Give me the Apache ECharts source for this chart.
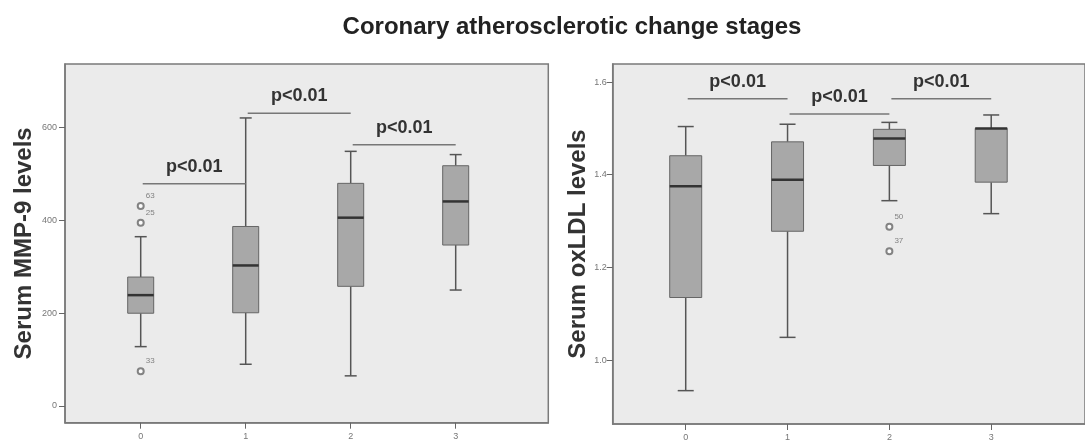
<!DOCTYPE html>
<html>
<head>
<meta charset="utf-8">
<script src="https://cdn.jsdelivr.net/npm/echarts@6/dist/echarts.min.js"></script>
<style>
html,body{margin:0;padding:0;background:#fff;}
#chart{width:1085px;height:442px;}
</style>
</head>
<body>
<div id="chart"></div>
<script>
// ---- data ----
const titleText = 'Coronary atherosclerotic change stages';
const categories = ['0', '1', '2', '3'];
const mmpName = 'Serum MMP-9 levels';
const oxName = 'Serum oxLDL levels';
// [min, Q1, median, Q3, max]
const mmpBoxes = [
  [128, 200, 239, 278, 365],
  [90, 201, 303, 387, 621],
  [65, 258, 406, 480, 549],
  [250, 347, 441, 518, 542]
];
const mmpOutliers = [[0, 431, '63'], [0, 395, '25'], [0, 75, '33']];
const oxBoxes = [
  [0.934, 1.135, 1.375, 1.441, 1.504],
  [1.049, 1.278, 1.389, 1.471, 1.509],
  [1.344, 1.420, 1.478, 1.498, 1.513],
  [1.316, 1.384, 1.500, 1.500, 1.529]
];
const oxOutliers = [[2, 1.288, '50'], [2, 1.235, '37']];
// [fromCategory, toCategory, height, label]
const mmpSig = [[0, 1, 479, 'p<0.01'], [1, 2, 631, 'p<0.01'], [2, 3, 563, 'p<0.01']];
const oxSig = [[0, 1, 1.564, 'p<0.01'], [1, 2, 1.531, 'p<0.01'], [2, 3, 1.564, 'p<0.01']];
const mmpTicks = [0, 200, 400, 600];
const oxTicks = [1.0, 1.2, 1.4, 1.6];
const xTicks = [0, 1, 2, 3];

// ---- styles ----
const FONT = '"Liberation Sans", Arial, sans-serif';
const frameColor = '#7a7a7a';
const plotBg = '#ebebeb';
const boxFill = '#a8a8a8';
const lineColor = '#555';

function boxRenderer(boxW, capW) {
  return function (params, api) {
    const x = api.value(0);
    const lo = api.coord([x, api.value(1)]);
    const q1 = api.coord([x, api.value(2)]);
    const md = api.coord([x, api.value(3)]);
    const q3 = api.coord([x, api.value(4)]);
    const hi = api.coord([x, api.value(5)]);
    const cx = lo[0];
    const ws = {stroke: lineColor, lineWidth: 1.5};
    return {
      type: 'group',
      children: [
        {type: 'line', shape: {x1: cx, y1: hi[1], x2: cx, y2: q3[1]}, style: ws},
        {type: 'line', shape: {x1: cx, y1: q1[1], x2: cx, y2: lo[1]}, style: ws},
        {type: 'line', shape: {x1: cx - capW / 2, y1: hi[1], x2: cx + capW / 2, y2: hi[1]}, style: ws},
        {type: 'line', shape: {x1: cx - capW / 2, y1: lo[1], x2: cx + capW / 2, y2: lo[1]}, style: ws},
        {type: 'rect', shape: {x: cx - boxW / 2, y: q3[1], width: boxW, height: q1[1] - q3[1]},
          style: {fill: boxFill, stroke: '#666', lineWidth: 1}},
        {type: 'line', shape: {x1: cx - boxW / 2, y1: md[1], x2: cx + boxW / 2, y2: md[1]},
          style: {stroke: '#333', lineWidth: 2.5}}
      ]
    };
  };
}

function sigRenderer(params, api) {
  const a = api.coord([api.value(0), api.value(2)]);
  const b = api.coord([api.value(1), api.value(2)]);
  const label = api.value(3);
  return {
    type: 'group',
    children: [
      {type: 'line', shape: {x1: a[0] + 2, y1: a[1], x2: b[0], y2: b[1]},
        style: {stroke: '#777', lineWidth: 1.5}},
      {type: 'text', x: (a[0] + b[0]) / 2 + 1, y: a[1] - 17,
        style: {text: String(label), fill: '#333', font: 'bold 18px ' + FONT,
          align: 'center', verticalAlign: 'middle'}}
    ]
  };
}

function xAxisCfg(gridIndex, min, max) {
  return {
    type: 'value', gridIndex, min, max,
    splitLine: {show: false},
    axisLine: {show: true, onZero: false, lineStyle: {color: frameColor, width: 1.5}},
    axisTick: {show: true, customValues: xTicks, length: 6, lineStyle: {color: '#666', width: 1}},
    axisLabel: {customValues: xTicks, margin: 9, fontSize: 9, color: '#777', fontFamily: FONT,
      formatter: v => categories[Math.round(v)]}
  };
}
function yAxisCfg(gridIndex, min, max, ticks, name, gap, margin, fmt) {
  return {
    type: 'value', gridIndex, min, max,
    name, nameLocation: 'middle', nameGap: gap, nameRotate: 90,
    nameTextStyle: {fontSize: 24, fontWeight: 'bold', color: '#333', fontFamily: FONT},
    splitLine: {show: false},
    axisLine: {show: true, onZero: false, lineStyle: {color: frameColor, width: 1.5}},
    axisTick: {show: true, customValues: ticks, length: 6, lineStyle: {color: '#666', width: 1}},
    axisLabel: {customValues: ticks, margin, fontSize: 9, color: '#777', fontFamily: FONT, formatter: fmt}
  };
}

const chart = echarts.init(document.getElementById('chart'), null, {renderer: 'canvas'});
chart.setOption({
  backgroundColor: '#fff',
  animation: false,
  title: {
    text: titleText, left: 572, top: 27, padding: 0,
    textAlign: 'center', textVerticalAlign: 'middle',
    textStyle: {fontSize: 24, fontWeight: 'bold', color: '#222', fontFamily: FONT}
  },
  grid: [
    {left: 65, top: 64, width: 483.3, height: 358.7, show: true,
      backgroundColor: plotBg, borderColor: frameColor, borderWidth: 1.5},
    {left: 612.7, top: 64, width: 482.3, height: 362.7, show: true,
      backgroundColor: plotBg, borderColor: frameColor, borderWidth: 1.5}
  ],
  xAxis: [
    xAxisCfg(0, -0.721, 3.882),
    xAxisCfg(1, -0.717, 3.921)
  ],
  yAxis: [
    yAxisCfg(0, -36, 737.3, mmpTicks, mmpName, 29, 8, v => String(v)),
    yAxisCfg(1, 0.862, 1.639, oxTicks, oxName, 18, 6, v => v.toFixed(1))
  ],
  series: [
    {type: 'custom', xAxisIndex: 0, yAxisIndex: 0, renderItem: boxRenderer(26, 12),
      data: mmpBoxes.map((b, i) => [i].concat(b)), encode: {x: 0, y: [1, 2, 3, 4, 5]}},
    {type: 'custom', xAxisIndex: 1, yAxisIndex: 1, renderItem: boxRenderer(32, 16),
      data: oxBoxes.map((b, i) => [i].concat(b)), encode: {x: 0, y: [1, 2, 3, 4, 5]}},
    {type: 'scatter', xAxisIndex: 0, yAxisIndex: 0, symbol: 'emptyCircle', symbolSize: 6,
      itemStyle: {color: '#666', borderColor: '#666', borderWidth: 1},
      label: {show: true, formatter: '{b}', position: [9, -10], fontSize: 8, color: '#666', fontFamily: FONT},
      data: mmpOutliers.map(o => ({value: [o[0], o[1]], name: o[2]}))},
    {type: 'scatter', xAxisIndex: 1, yAxisIndex: 1, symbol: 'emptyCircle', symbolSize: 6,
      itemStyle: {color: '#666', borderColor: '#666', borderWidth: 1},
      label: {show: true, formatter: '{b}', position: [9, -10], fontSize: 8, color: '#666', fontFamily: FONT},
      data: oxOutliers.map(o => ({value: [o[0], o[1]], name: o[2]}))},
    {type: 'custom', xAxisIndex: 0, yAxisIndex: 0, renderItem: sigRenderer,
      data: mmpSig, encode: {x: [0, 1], y: 2}},
    {type: 'custom', xAxisIndex: 1, yAxisIndex: 1, renderItem: sigRenderer,
      data: oxSig, encode: {x: [0, 1], y: 2}}
  ]
});
</script>
</body>
</html>
